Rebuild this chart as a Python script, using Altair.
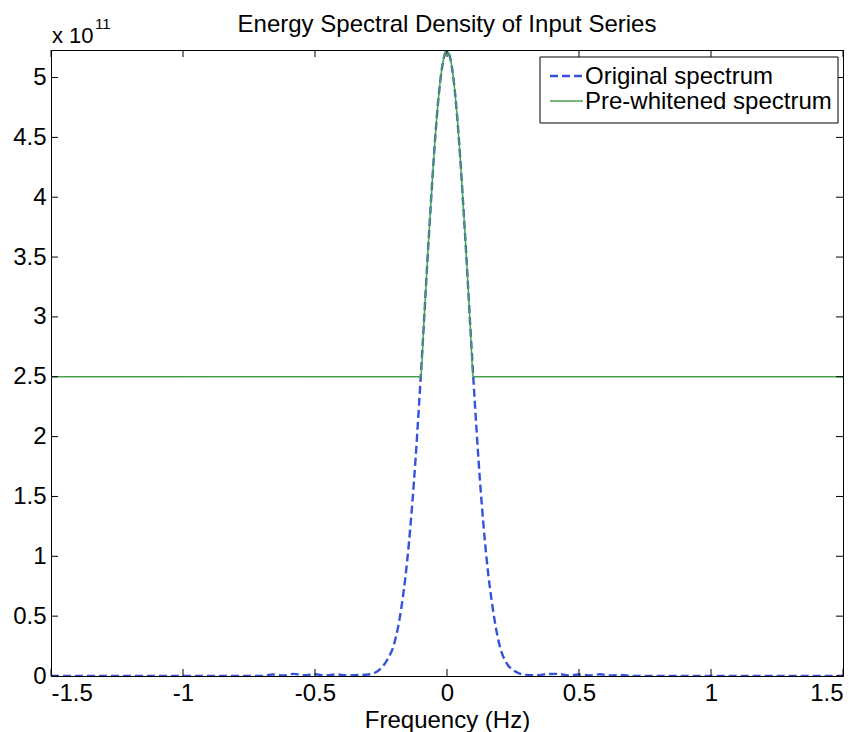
import altair as alt
import pandas as pd

# ---- data (spectral values in units of 1e11) ----
orig_freq = [-1.5, -1.2, -0.9, -0.7, -0.66, -0.62, -0.58, -0.54, -0.5, -0.46, -0.42, -0.38, -0.34,
             -0.3, -0.275, -0.25, -0.225, -0.2, -0.175, -0.15, -0.125, -0.1, -0.0875, -0.075,
             -0.0625, -0.05, -0.0375, -0.025, -0.0125, 0.0, 0.0125, 0.025, 0.0375, 0.05, 0.0625,
             0.075, 0.0875, 0.1, 0.125, 0.15, 0.175, 0.2, 0.225, 0.25, 0.275, 0.3, 0.34, 0.38,
             0.42, 0.46, 0.5, 0.54, 0.58, 0.62, 0.66, 0.7, 0.9, 1.2, 1.5]
orig_vals = [0.0, 0.0, 0.0, 0.0, 0.012, 0.004, 0.018, 0.006, 0.015, 0.004, 0.013, 0.005, 0.008,
             0.012, 0.025, 0.065, 0.14, 0.27, 0.54, 0.98, 1.63, 2.48, 2.95, 3.44,
             3.90, 4.33, 4.70, 4.98, 5.16, 5.22, 5.16, 4.98, 4.70, 4.33, 3.90,
             3.44, 2.95, 2.48, 1.63, 0.98, 0.54, 0.25, 0.11, 0.05, 0.02, 0.008, 0.006, 0.016,
             0.018, 0.004, 0.012, 0.005, 0.014, 0.004, 0.008, 0.0, 0.0, 0.0, 0.0]

white_freq = [-1.5, -0.1, -0.0875, -0.075, -0.0625, -0.05, -0.0375, -0.025, -0.0125, 0.0,
              0.0125, 0.025, 0.0375, 0.05, 0.0625, 0.075, 0.0875, 0.1, 1.5]
white_vals = [2.5, 2.5, 2.95, 3.44, 3.90, 4.33, 4.70, 4.98, 5.16, 5.22,
              5.16, 4.98, 4.70, 4.33, 3.90, 3.44, 2.95, 2.5, 2.5]

series_names = ["Original spectrum", "Pre-whitened spectrum"]
series_colors = ["#3452dc", "#45a050"]
x_ticks = [-1.5, -1, -0.5, 0, 0.5, 1, 1.5]
y_ticks = [0, 0.5, 1, 1.5, 2, 2.5, 3, 3.5, 4, 4.5, 5]
title_text = "Energy Spectral Density of Input Series"

df = pd.concat([
    pd.DataFrame({"f": orig_freq, "v": orig_vals, "s": series_names[0]}),
    pd.DataFrame({"f": white_freq, "v": white_vals, "s": series_names[1]}),
], ignore_index=True)

W, H = 792, 626
FONT = "Liberation Sans"

xscale = alt.Scale(domain=[-1.5, 1.5], nice=False, zero=False)
yscale = alt.Scale(domain=[0, 5.23], nice=False, zero=False)

lines = alt.Chart(df).mark_line(interpolate="monotone", clip=True).encode(
    x=alt.X("f:Q", scale=xscale, title="Frequency (Hz)",
            axis=alt.Axis(values=x_ticks, labelExpr="'' + datum.value", ticks=False,
                          domain=False, grid=False, labelPadding=5, titlePadding=3)),
    y=alt.Y("v:Q", scale=yscale, title=None,
            axis=alt.Axis(values=y_ticks, labelExpr="'' + datum.value", ticks=False,
                          domain=False, grid=False, labelPadding=5)),
    color=alt.Color("s:N", scale=alt.Scale(domain=series_names, range=series_colors), legend=None),
    strokeDash=alt.StrokeDash("s:N", scale=alt.Scale(domain=series_names, range=[[8, 4], [1, 0]]),
                              legend=None),
    strokeWidth=alt.StrokeWidth("s:N", scale=alt.Scale(domain=series_names, range=[2.4, 1.5]),
                                legend=None),
)

xt = pd.DataFrame({"t": x_ticks})
yt = pd.DataFrame({"t": y_ticks})
tick_style = dict(color="black", strokeWidth=1)
xb = alt.Chart(xt).mark_rule(**tick_style).encode(x=alt.X("t:Q", scale=xscale), y=alt.value(H), y2=alt.value(H - 7))
xtop = alt.Chart(xt).mark_rule(**tick_style).encode(x=alt.X("t:Q", scale=xscale), y=alt.value(0), y2=alt.value(7))
yl = alt.Chart(yt).mark_rule(**tick_style).encode(y=alt.Y("t:Q", scale=yscale), x=alt.value(0), x2=alt.value(7))
yr = alt.Chart(yt).mark_rule(**tick_style).encode(y=alt.Y("t:Q", scale=yscale), x=alt.value(W), x2=alt.value(W - 7))

mult = alt.Chart(pd.DataFrame({"t": ["x 10"]})).mark_text(
    align="left", baseline="alphabetic", fontSize=22, font=FONT, color="black"
).encode(text="t:N", x=alt.value(1), y=alt.value(-7))
expo = alt.Chart(pd.DataFrame({"t": ["11"]})).mark_text(
    align="left", baseline="alphabetic", fontSize=15, font=FONT, color="black"
).encode(text="t:N", x=alt.value(44), y=alt.value(-21))
title = alt.Chart(pd.DataFrame({"t": [title_text]})).mark_text(
    align="center", baseline="alphabetic", fontSize=24, font=FONT, color="black"
).encode(text="t:N", x=alt.value(W / 2), y=alt.value(-18))

# ---- legend (drawn box, samples and labels) ----
leg_box = alt.Chart(pd.DataFrame({"a": [0]})).mark_rect(
    fill="white", stroke="black", strokeWidth=1
).encode(x=alt.value(489), x2=alt.value(787), y=alt.value(7), y2=alt.value(73))
leg_rows = []
for i, (name, col, dash, sw) in enumerate(zip(series_names, series_colors, [[8, 4], [1, 0]], [2.4, 1.5])):
    yy = 26 + 25 * i
    leg_rows.append(alt.Chart(pd.DataFrame({"a": [0]})).mark_rule(
        color=col, strokeDash=dash, strokeWidth=sw
    ).encode(x=alt.value(499), x2=alt.value(532), y=alt.value(yy)))
    leg_rows.append(alt.Chart(pd.DataFrame({"t": [name]})).mark_text(
        align="left", baseline="middle", fontSize=24, font=FONT, color="black"
    ).encode(text="t:N", x=alt.value(534), y=alt.value(yy + 1)))

chart = alt.layer(lines, xb, xtop, yl, yr, mult, expo, title, leg_box, *leg_rows).properties(
    width=W, height=H,
    autosize=alt.AutoSizeParams(type="none"),
    padding={"left": 51, "top": 50, "right": 19, "bottom": 56},
    background="white",
).configure_view(
    stroke="black", strokeWidth=1
).configure_axis(
    labelFont=FONT, labelFontSize=24, labelColor="black",
    titleFont=FONT, titleFontSize=24, titleFontWeight="normal", titleColor="black",
)

chart.save("out.html", embed_options={"renderer": "svg", "actions": False})
